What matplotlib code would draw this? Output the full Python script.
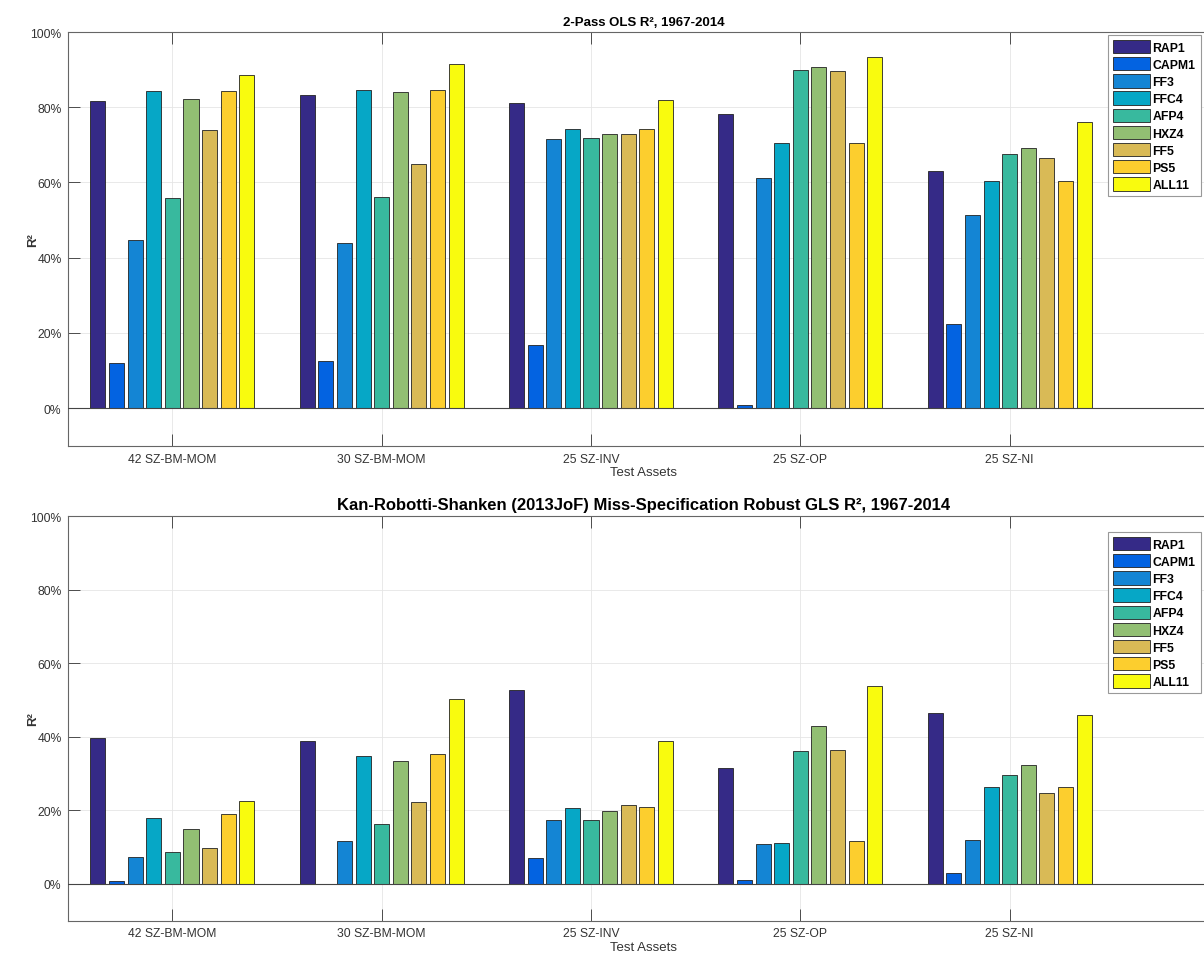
import numpy as np
import matplotlib
matplotlib.use("Agg")
import matplotlib.pyplot as plt
from matplotlib.ticker import PercentFormatter

plt.rcParams["font.family"] = ["Liberation Sans", "DejaVu Sans"]

# test asset groups and models
groups = ["42 SZ-BM-MOM", "30 SZ-BM-MOM", "25 SZ-INV", "25 SZ-OP", "25 SZ-NI"]
models = ["RAP1", "CAPM1", "FF3", "FFC4", "AFP4", "HXZ4", "FF5", "PS5", "ALL11"]
colors = ["#352a87", "#0363e1", "#1485d4", "#06a7c6", "#38b99e",
          "#92bf73", "#d9ba56", "#fcce2e", "#f9fb0e"]

# R^2 in percent, one row per model, columns follow groups
ols_r2 = {
    "RAP1":  [81.6, 83.2, 81.1, 78.1, 62.9],
    "CAPM1": [12.1, 12.5, 16.7, 0.8, 22.4],
    "FF3":   [44.6, 43.8, 71.5, 61.3, 51.3],
    "FFC4":  [84.4, 84.5, 74.1, 70.6, 60.3],
    "AFP4":  [55.9, 56.1, 71.9, 90.0, 67.5],
    "HXZ4":  [82.2, 84.0, 73.0, 90.8, 69.1],
    "FF5":   [73.9, 64.9, 72.8, 89.7, 66.5],
    "PS5":   [84.4, 84.5, 74.3, 70.6, 60.3],
    "ALL11": [88.5, 91.4, 82.0, 93.4, 76.1],
}
gls_r2 = {
    "RAP1":  [39.5, 38.9, 52.8, 31.5, 46.3],
    "CAPM1": [0.7, 0.0, 6.9, 1.0, 2.8],
    "FF3":   [7.4, 11.6, 17.3, 10.7, 11.9],
    "FFC4":  [17.8, 34.8, 20.7, 11.1, 26.4],
    "AFP4":  [8.7, 16.2, 17.3, 36.2, 29.5],
    "HXZ4":  [15.0, 33.3, 19.9, 43.0, 32.4],
    "FF5":   [9.7, 22.2, 21.4, 36.5, 24.7],
    "PS5":   [19.0, 35.4, 21.0, 11.5, 26.4],
    "ALL11": [22.6, 50.3, 38.9, 53.7, 45.8],
}

titles = ["2-Pass OLS R², 1967-2014",
          "Kan-Robotti-Shanken (2013JoF) Miss-Specification Robust GLS R², 1967-2014"]
title_sizes = [9.5, 12]

fig = plt.figure(figsize=(12.04, 9.54), dpi=100)
W, H = 1204, 954
axes_px = [(67.7, 33, 1219, 446.6), (67.7, 517, 1219, 921.5)]
legend_px = [(1108, 36), (1108, 533)]

gray = "#333333"
x = np.arange(1, len(groups) + 1)
slot = 0.8 / len(models)
width = 0.072

for k, data in enumerate([ols_r2, gls_r2]):
    l, t, r, b = axes_px[k]
    ax = fig.add_axes([l / W, 1 - b / H, (r - l) / W, (b - t) / H])
    for j, m in enumerate(models):
        off = (j - (len(models) - 1) / 2) * slot
        ax.bar(x + off, data[m], width=width, color=colors[j],
               edgecolor="#222222", linewidth=0.6, label=m, zorder=3)
    ax.axhline(0, color="#444444", linewidth=0.8, zorder=4)

    ax.set_xlim(0.5, 6.0)
    ax.set_ylim(-10, 100)
    ax.set_xticks(x)
    ax.set_xticklabels(groups)
    ax.set_yticks(np.arange(0, 101, 20))
    ax.yaxis.set_major_formatter(PercentFormatter(decimals=0))
    ax.tick_params(direction="in", length=8.3, width=0.6, colors=gray,
                   labelsize=8.7, top=True, right=True, pad=4.5)
    ax.tick_params(axis="x", pad=5)
    ax.grid(True, color="#e5e5e5", linewidth=0.6, zorder=0)
    ax.set_axisbelow(True)
    for s in ax.spines.values():
        s.set_color("#666666")
        s.set_linewidth(0.8)

    ax.set_title(titles[k], fontsize=title_sizes[k], fontweight="bold",
                 color="black", pad=5)
    ax.set_xlabel("Test Assets", fontsize=9.5, color=gray, labelpad=1)
    ax.set_ylabel("R²", fontsize=9.5, fontweight="bold", color=gray)
    ax.yaxis.set_label_coords(-0.025, 0.5)

    lx, ly = legend_px[k]
    leg = ax.legend(loc="upper left", bbox_to_anchor=(lx / W, 1 - ly / H),
                    bbox_transform=fig.transFigure,
                    prop={"weight": "bold", "size": 8.8},
                    handlelength=3.0, handleheight=1.3, labelspacing=0.28,
                    handletextpad=0.25, borderpad=0.4, borderaxespad=0,
                    fancybox=False, framealpha=1, edgecolor="#999999")
    leg.get_frame().set_linewidth(0.8)

fig.savefig("out.png", dpi=100)
